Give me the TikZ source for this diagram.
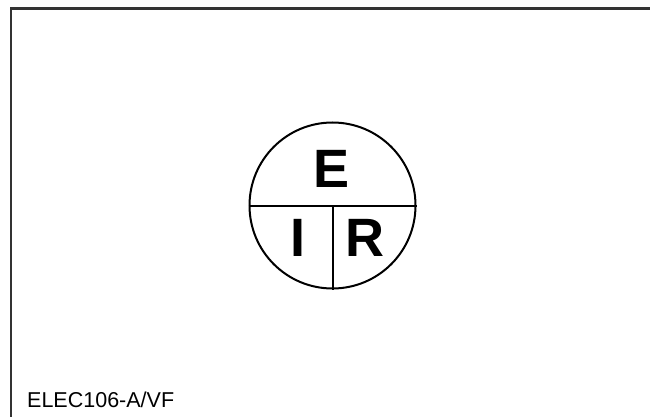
\documentclass[tikz,border=0pt]{standalone}
\usepackage{fontspec}
\setmainfont{Liberation Sans}
\begin{document}
\begin{tikzpicture}[x=1pt,y=-1pt,
  frameline/.style={line width=2.5pt,draw=black!80},
  ring/.style={circle,draw,line width=2pt,minimum size=166pt,inner sep=0pt},
  divline/.style={line width=2pt},
  bigletter/.style={inner sep=0pt,font=\bfseries\fontsize{54}{54}\selectfont},
  caption/.style={inner sep=0pt,anchor=base west,font=\fontsize{21.5}{22}\selectfont}]
\useasboundingbox (0,0) rectangle (650,417);
\coordinate (tl) at (11,8.5);
\coordinate (tr) at (650,8.5);
\coordinate (bl) at (11,417);
\draw[frameline] (tr) -- (tl) -- (bl);
\node[ring] (c) at (332.5,205.5) {};
\draw[divline] (c.west) -- (c.east);
\draw[divline] (c.center) -- (c.south);
\node[bigletter] (E) at (331.7,169.2) {E};
\node[bigletter] (I) at (297.7,238.2) {I};
\node[bigletter] (R) at (365,238.2) {R};
\node[caption] (lab) at (27,407.7) {ELEC106-A/VF};
\end{tikzpicture}
\end{document}
